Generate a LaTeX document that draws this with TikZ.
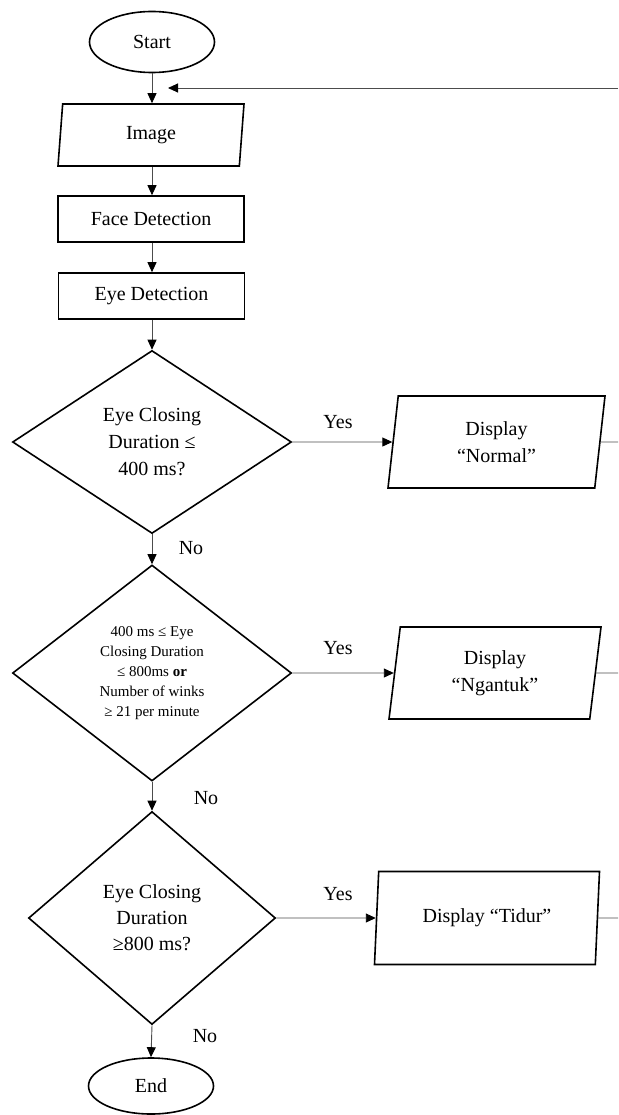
\documentclass[tikz,border=0pt]{standalone}
\usepackage{fontspec}
\setmainfont{Liberation Serif}
\usetikzlibrary{shapes.geometric,arrows.meta}
\begin{document}
\begin{tikzpicture}[x=1pt,y=-1pt,
  shp/.style={draw=black, line width=1.6pt, inner sep=0pt, align=center, font=\fontsize{20}{27}\selectfont},
  term/.style={shp, ellipse, minimum width=125pt, minimum height=61pt},
  procbox/.style={shp, rectangle, minimum width=186pt, minimum height=46pt},
  iobox/.style={shp, trapezium, trapezium left angle=#1, trapezium right angle=180-#1, trapezium stretches body},
  decision/.style={shp, diamond},
  conn/.style={draw=black!70, line width=0.9pt, -{Triangle[length=10pt,width=9pt,color=black]}},
  plain/.style={draw=black!70, line width=0.9pt},
  lbl/.style={inner sep=0pt, font=\fontsize{20}{24}\selectfont}
]
\useasboundingbox (0,0) rectangle (618,1115);

\node[term] (start) at (152,42) {Start};
\node[iobox=75, minimum width=186pt, minimum height=62pt] (image) at (151,135) {Image};
\node[procbox] (face) at (151,219) {Face Detection};
\node[procbox] (eye) at (151.5,296) {Eye Detection};

\node[decision, minimum width=279pt, minimum height=183pt] (d1) at (152,442)
  {Eye Closing\\Duration ≤\\400 ms?};
\node[decision, minimum width=279pt, minimum height=216pt, font=\fontsize{15}{20}\selectfont] (d2) at (152,673)
  {400 ms ≤ Eye\\Closing Duration\\≤ 800ms \textbf{or}\\Number of winks\\≥ 21 per minute};
\node[decision, minimum width=247pt, minimum height=213pt, font=\fontsize{20}{26}\selectfont] (d3) at (152,918)
  {Eye Closing\\Duration\\≥800 ms?};

\node[iobox=76, minimum width=217pt, minimum height=92pt] (normal) at (496.5,442) {Display\\“Normal”};
\node[iobox=76, minimum width=212pt, minimum height=92pt] (ngantuk) at (495,673) {Display\\“Ngantuk”};
\node[iobox=77, minimum width=225pt, minimum height=93pt] (tidur) at (487,918) {Display “Tidur”};

\node[term, minimum height=56pt] (end) at (151,1086) {End};

\node[lbl] (yes1) at (338,422) {Yes};
\node[lbl] (yes2) at (338,648) {Yes};
\node[lbl] (yes3) at (338,894) {Yes};
\node[lbl] (no1) at (191,548) {No};
\node[lbl] (no2) at (206,798) {No};
\node[lbl] (no3) at (205,1036) {No};

\coordinate (retR) at (618,88);
\coordinate (retL) at (168,88);
\coordinate (outN) at (618,442);
\coordinate (outG) at (618,673);
\coordinate (outT) at (618,918);

\draw[conn] (start.south) -- (image.north -| start.south);
\draw[conn] (image.south -| start.south) -- (face.north -| start.south);
\draw[conn] (face.south -| start.south) -- (eye.north -| start.south);
\draw[conn] (eye.south -| d1.north) -- (d1.north);
\draw[conn] (d1.south) -- (d2.north);
\draw[conn] (d2.south) -- (d3.north);
\draw[conn] (d3.south) -- (end.north);

\draw[conn] (d1.east) -- (normal.west);
\draw[conn] (d2.east) -- (ngantuk.west);
\draw[conn] (d3.east) -- (tidur.west);

\draw[plain] (normal.east) -- (outN);
\draw[plain] (ngantuk.east) -- (outG);
\draw[plain] (tidur.east) -- (outT);
\draw[conn] (retR) -- (retL);
\end{tikzpicture}
\end{document}
